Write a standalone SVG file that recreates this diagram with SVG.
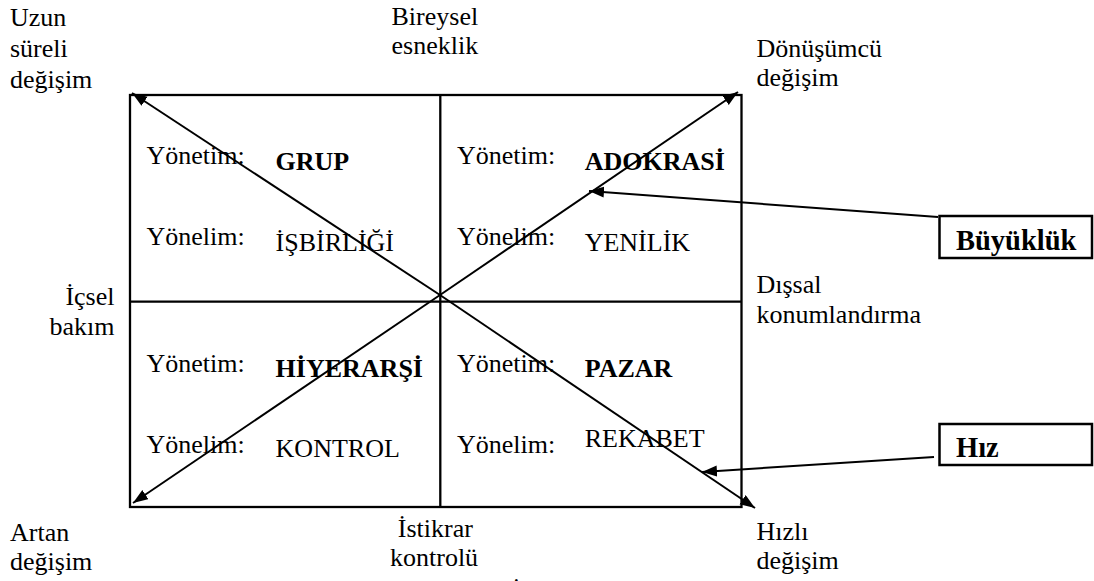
<svg xmlns="http://www.w3.org/2000/svg" width="1094" height="581" viewBox="0 0 1094 581">
<style>
text{font-family:"Liberation Serif","Times New Roman",serif;fill:#000}
.t{font-size:26px}
.b{font-size:26px;font-weight:bold}
.lb{font-size:28.5px;font-weight:bold}
.frame{fill:none;stroke:#000;stroke-width:2.3}
.box{fill:#fff;stroke:#000;stroke-width:2.5}
.con{fill:none;stroke:#000;stroke-width:2;marker-end:url(#ah)}
</style>
<defs>
<marker id="ah" markerUnits="userSpaceOnUse" markerWidth="16" markerHeight="12" refX="15" refY="5.5" orient="auto">
<path d="M0,0 L15,5.5 L0,11 z" fill="#000"/>
</marker>
</defs>
<rect width="1094" height="581" fill="#fff"/>
<g id="grid">
<rect class="frame" x="130" y="95" width="611.5" height="412"/>
<line class="frame" x1="440.3" y1="95" x2="440.3" y2="507"/>
<line class="frame" x1="130" y1="301.7" x2="741.5" y2="301.7"/>
</g>
<g id="connectors">
<line class="con" x1="440" y1="295" x2="132" y2="93"/>
<line class="con" x1="440" y1="295" x2="738" y2="92"/>
<line class="con" x1="440" y1="295" x2="133" y2="503"/>
<line class="con" x1="440" y1="295" x2="755" y2="508"/>
<line class="con" x1="938" y1="217" x2="589" y2="191"/>
<line class="con" x1="934" y1="457" x2="702" y2="472"/>
</g>
<g id="q-grup">
<text class="t" x="146.5" y="164">Yönetim:</text>
<text class="b" x="275.6" y="170">GRUP</text>
<text class="t" x="146.5" y="245">Yönelim:</text>
<text class="t" x="275.6" y="250.7">İŞBİRLİĞİ</text>
</g>
<g id="q-adokrasi">
<text class="t" x="457" y="164">Yönetim:</text>
<text class="b" x="584.7" y="170">ADOKRASİ</text>
<text class="t" x="457" y="245">Yönelim:</text>
<text class="t" x="584.7" y="250.7">YENİLİK</text>
</g>
<g id="q-hiyerarsi">
<text class="t" x="146.5" y="371.7">Yönetim:</text>
<text class="b" x="275.6" y="377">HİYERARŞİ</text>
<text class="t" x="146.5" y="452.7">Yönelim:</text>
<text class="t" x="275.6" y="457">KONTROL</text>
</g>
<g id="q-pazar">
<text class="t" x="457" y="371.7">Yönetim:</text>
<text class="b" x="584.7" y="377">PAZAR</text>
<text class="t" x="457" y="452.7">Yönelim:</text>
<text class="t" x="584.7" y="447">REKABET</text>
</g>
<g id="lbl-uzun">
<text class="t" x="10" y="26">Uzun</text>
<text class="t" x="10" y="56.8">süreli</text>
<text class="t" x="10" y="87.5">değişim</text>
</g>
<g id="lbl-bireysel">
<text class="t" x="391.5" y="24.5">Bireysel</text>
<text class="t" x="391.5" y="54">esneklik</text>
</g>
<g id="lbl-donusumcu">
<text class="t" x="756.4" y="56.7">Dönüşümcü</text>
<text class="t" x="756.4" y="86">değişim</text>
</g>
<g id="lbl-icsel">
<text class="t" x="114.5" y="305" text-anchor="end">İçsel</text>
<text class="t" x="114.5" y="335" text-anchor="end">bakım</text>
</g>
<g id="lbl-dissal">
<text class="t" x="756.4" y="292.5">Dışsal</text>
<text class="t" x="756.4" y="323">konumlandırma</text>
</g>
<g id="lbl-artan">
<text class="t" x="10" y="540.5">Artan</text>
<text class="t" x="10" y="569.5">değişim</text>
</g>
<g id="lbl-istikrar">
<text class="t" x="397.8" y="536.5">İstikrar</text>
<text class="t" x="390" y="565.5">kontrolü</text>
</g>
<g id="lbl-hizli">
<text class="t" x="756.4" y="540">Hızlı</text>
<text class="t" x="756.4" y="569">değişim</text>
</g>
<g id="lbl-cut">
<text class="t" x="512" y="600">İ</text>
</g>
<g id="node-buyukluk">
<rect class="box" x="939.5" y="216" width="152.5" height="42"/>
<text class="lb" x="956" y="250">Büyüklük</text>
</g>
<g id="node-hiz">
<rect class="box" x="939.5" y="424" width="152.5" height="41"/>
<text class="lb" x="956" y="457">Hız</text>
</g>
</svg>
